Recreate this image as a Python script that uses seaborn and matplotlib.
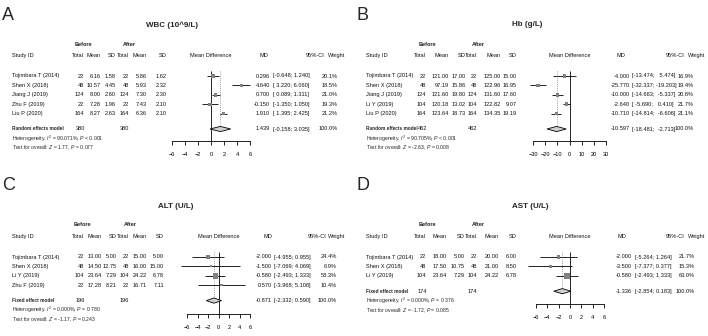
import matplotlib
matplotlib.use("Agg")
import matplotlib.pyplot as plt
import seaborn as sns
import pandas as pd

# ---- WBC
wbc_study = ["Tojimbara T (2014)", "Shen X (2018)", "Jiang J (2019)", "Zhu F (2019)", "Liu P (2020)"]
wbc_n = [22, 48, 124, 22, 164]
wbc_mean_before = [6.16, 10.57, 8.00, 7.28, 8.27]
wbc_sd_before = [1.58, 4.45, 2.60, 1.96, 2.63]
wbc_mean_after = [5.86, 5.93, 7.30, 7.43, 6.36]
wbc_sd_after = [1.62, 2.32, 2.30, 2.10, 2.10]
wbc_md = [0.296, 4.640, 0.700, -0.150, 1.910]
wbc_lower = [-0.648, 3.220, 0.089, -1.350, 1.395]
wbc_upper = [1.240, 6.060, 1.311, 1.050, 2.425]
wbc_weight = [20.1, 18.5, 21.0, 19.3, 21.2]
wbc_pooled = [1.439, -0.158, 3.035]
wbc_stats = ["90.071%", "< 0.001", "1.77", "= 0.077"]

# ---- Hb
hb_study = ["Tojimbara T (2014)", "Shen X (2018)", "Jiang J (2019)", "Li Y (2019)", "Liu P (2020)"]
hb_n = [22, 48, 124, 104, 164]
hb_mean_before = [121.00, 97.19, 121.60, 120.18, 123.64]
hb_sd_before = [17.00, 15.86, 19.80, 13.02, 18.73]
hb_mean_after = [125.00, 122.96, 131.60, 122.82, 134.35]
hb_sd_after = [15.00, 16.95, 17.60, 9.07, 19.19]
hb_md = [-4.000, -25.770, -10.000, -2.640, -10.710]
hb_lower = [-13.474, -32.337, -14.663, -5.690, -14.814]
hb_upper = [5.474, -19.203, -5.337, 0.410, -6.606]
hb_weight = [16.9, 19.4, 20.8, 21.7, 21.1]
hb_pooled = [-10.597, -18.481, -2.713]
hb_stats = ["90.705%", "< 0.001", "-2.63", "= 0.008"]

# ---- ALT
alt_study = ["Tojimbara T (2014)", "Shen X (2018)", "Li Y (2019)", "Zhu F (2019)"]
alt_n = [22, 48, 104, 22]
alt_mean_before = [13.00, 14.50, 23.64, 17.28]
alt_sd_before = [5.00, 12.75, 7.29, 8.21]
alt_mean_after = [15.00, 16.00, 24.22, 16.71]
alt_sd_after = [5.00, 15.00, 6.78, 7.11]
alt_md = [-2.000, -1.500, -0.580, 0.570]
alt_lower = [-4.955, -7.069, -2.493, -3.968]
alt_upper = [0.955, 4.069, 1.333, 5.108]
alt_weight = [24.4, 6.9, 58.3, 10.4]
alt_pooled = [-0.871, -2.332, 0.590]
alt_stats = ["0.000%", "= 0.780", "-1.17", "= 0.243"]

# ---- AST
ast_study = ["Tojimbara T (2014)", "Shen X (2018)", "Li Y (2019)"]
ast_n = [22, 48, 104]
ast_mean_before = [18.00, 17.50, 23.64]
ast_sd_before = [5.00, 10.75, 7.29]
ast_mean_after = [20.00, 21.00, 24.22]
ast_sd_after = [6.00, 8.50, 6.78]
ast_md = [-2.000, -3.500, -0.580]
ast_lower = [-5.264, -7.377, -2.493]
ast_upper = [1.264, 0.377, 1.333]
ast_weight = [21.7, 15.3, 63.0]
ast_pooled = [-1.336, -2.854, 0.183]
ast_stats = ["0.000%", "= 0.376", "-1.72", "= 0.085"]

panels = [
    dict(letter="A", title="WBC (10^9/L)", model="Random effects model", study=wbc_study, n=wbc_n,
         m1=wbc_mean_before, s1=wbc_sd_before, m2=wbc_mean_after, s2=wbc_sd_after, md=wbc_md,
         lo=wbc_lower, hi=wbc_upper, w=wbc_weight, pooled=wbc_pooled, stats=wbc_stats),
    dict(letter="B", title="Hb (g/L)", model="Random effects model", study=hb_study, n=hb_n,
         m1=hb_mean_before, s1=hb_sd_before, m2=hb_mean_after, s2=hb_sd_after, md=hb_md,
         lo=hb_lower, hi=hb_upper, w=hb_weight, pooled=hb_pooled, stats=hb_stats),
    dict(letter="C", title="ALT (U/L)", model="Fixed effect model", study=alt_study, n=alt_n,
         m1=alt_mean_before, s1=alt_sd_before, m2=alt_mean_after, s2=alt_sd_after, md=alt_md,
         lo=alt_lower, hi=alt_upper, w=alt_weight, pooled=alt_pooled, stats=alt_stats),
    dict(letter="D", title="AST (U/L)", model="Fixed effect model", study=ast_study, n=ast_n,
         m1=ast_mean_before, s1=ast_sd_before, m2=ast_mean_after, s2=ast_sd_after, md=ast_md,
         lo=ast_lower, hi=ast_upper, w=ast_weight, pooled=ast_pooled, stats=ast_stats),
]

# pixel layout of each panel
layouts = [
    dict(ox=0, oy=0, letter_xy=(2, 15), title_x=172, before_x=75, after_x=123,
         cols=[84, 101, 116, 129, 147, 167], forest=(172, 250), lim=6, step=2, axis_gap=12,
         md_right=270, ci_left=273, w_right=338, md_head=268, ci_head=324, w_head=345),
    dict(ox=354, oy=0, letter_xy=(356, 15), title_x=527, before_x=419, after_x=472,
         cols=[426, 449, 466, 477, 501, 517], forest=(533, 606), lim=30, step=10, axis_gap=12,
         md_right=630, ci_left=632, w_right=694, md_head=625, ci_head=684, w_head=705),
    dict(ox=0, oy=181, letter_xy=(2, 186), title_x=176, before_x=74, after_x=124,
         cols=[84, 102, 117, 129, 147, 164], forest=(187, 250), lim=6, step=2, axis_gap=13,
         md_right=272, ci_left=274, w_right=337, md_head=272, ci_head=326, w_head=345),
    dict(ox=354, oy=181, letter_xy=(356, 186), title_x=530, before_x=419, after_x=472,
         cols=[426, 447, 465, 477, 499, 517], forest=(536, 604), lim=6, step=2, axis_gap=13,
         md_right=632, ci_left=635, w_right=695, md_head=626, ci_head=684, w_head=705),
]

sns.set_style("white")
plt.rcParams["font.family"] = ["Liberation Sans", "DejaVu Sans"]
plt.rcParams["mathtext.fontset"] = "custom"
plt.rcParams["mathtext.rm"] = "Liberation Sans"
plt.rcParams["mathtext.it"] = "Liberation Sans:italic"

W, H = 708, 336
FS = 4.1


def num(v, d):
    return f"{v:.{d}f}"


fig = plt.figure(figsize=(W / 100, H / 100), dpi=100)
canvas = fig.add_axes([0, 0, 1, 1])
canvas.set_xlim(0, W)
canvas.set_ylim(H, 0)
canvas.axis("off")


def draw_panel(p, lay):
    oy = lay["oy"]
    k = len(p["study"])
    rows = [oy + 76 + 9.4 * i for i in range(k)]
    y_sum = rows[-1] + 15.4
    y_het = y_sum + 9.6
    y_test = y_het + 9.6
    y_axis = y_sum + lay["axis_gap"]
    txt = dict(fontsize=FS, va="center", color="#111111")

    canvas.text(*lay["letter_xy"], p["letter"], fontsize=13, va="center", ha="left")
    canvas.text(lay["title_x"], oy + 25, p["title"], fontsize=5.8, fontweight="bold",
                ha="center", va="center")

    # headers
    canvas.text(lay["before_x"], oy + 44, "Before", fontsize=4.0, fontweight="bold", va="center")
    canvas.text(lay["after_x"], oy + 44, "After", fontsize=4.0, fontweight="bold", va="center")
    sx = lay["ox"] + 12
    canvas.text(sx, oy + 55.5, "Study ID", **txt)
    for x, h in zip(lay["cols"], ["Total", "Mean", "SD", "Total", "Mean", "SD"]):
        canvas.text(x, oy + 55.5, h, ha="right", **txt)
    x0, x1 = lay["forest"]
    canvas.text((x0 + x1) / 2, oy + 55.5, "Mean Difference", ha="center", **txt)
    canvas.text(lay["md_head"], oy + 55.5, "MD", ha="right", **txt)
    canvas.text(lay["ci_head"], oy + 55.5, "95%-CI", ha="right", **txt)
    canvas.text(lay["w_head"], oy + 55.5, "Weight", ha="right", **txt)

    # study rows
    lo_s = [num(v, 3) for v in p["lo"] + [p["pooled"][1]]]
    hi_s = [num(v, 3) for v in p["hi"] + [p["pooled"][2]]]
    lw_, hw_ = max(map(len, lo_s)), max(map(len, hi_s))
    for i, y in enumerate(rows):
        canvas.text(sx, y, p["study"][i], **txt)
        vals = [str(p["n"][i]), num(p["m1"][i], 2), num(p["s1"][i], 2),
                str(p["n"][i]), num(p["m2"][i], 2), num(p["s2"][i], 2)]
        for x, v in zip(lay["cols"], vals):
            canvas.text(x, y, v, ha="right", **txt)
        canvas.text(lay["md_right"], y, num(p["md"][i], 3), ha="right", **txt)
        canvas.text(lay["ci_left"], y, f"[{lo_s[i].rjust(lw_)}; {hi_s[i].rjust(hw_)}]", ha="left", **txt)
        canvas.text(lay["w_right"], y, f"{p['w'][i]:.1f}%", ha="right", **txt)

    # pooled row
    total = sum(p["n"])
    canvas.text(sx, y_sum, p["model"], fontsize=3.4, fontweight="bold", va="center")
    canvas.text(lay["cols"][0] + 1, y_sum, str(total), ha="right", **txt)
    canvas.text(lay["cols"][3], y_sum, str(total), ha="right", **txt)
    canvas.text(lay["md_right"], y_sum, num(p["pooled"][0], 3), ha="right", **txt)
    canvas.text(lay["ci_left"], y_sum, f"[{lo_s[-1].rjust(lw_)}; {hi_s[-1].rjust(hw_)}]", ha="left", **txt)
    canvas.text(lay["w_right"], y_sum, "100.0%", ha="right", **txt)
    i2, ph, z, pz = p["stats"]
    canvas.text(sx, y_het, f"Heterogeneity: $I^2$ = {i2}, $P$ {ph}", fontsize=3.7, va="center")
    canvas.text(sx, y_test, f"Test for overall: $Z$ = {z}, $P$ {pz}", fontsize=3.7, va="center")

    # forest plot
    top = rows[0] - 5
    fax = fig.add_axes([x0 / W, 1 - y_axis / H, (x1 - x0) / W, (y_axis - top) / H])
    df = pd.DataFrame({"md": p["md"], "row": rows, "weight": p["w"]})
    fax.hlines(rows, p["lo"], p["hi"], color="black", lw=0.6, clip_on=False, zorder=2)
    sns.scatterplot(data=df, x="md", y="row", size="weight", sizes=(0, 30), size_norm=(0, 100),
                    marker="s", color="gray", edgecolor="none", legend=False, ax=fax,
                    zorder=3, clip_on=False)
    m, l, h = p["pooled"]
    fax.fill([l, m, h, m], [y_sum, y_sum - 2.6, y_sum, y_sum + 2.6], facecolor="#d0d0d0",
             edgecolor="black", lw=0.6, zorder=3, clip_on=False)
    fax.vlines(0, top, y_axis, color="black", lw=0.6)
    fax.vlines(m, top, y_sum - 2.6, color="gray", lw=0.6, linestyles=(0, (1, 1.5)))
    lim, step = lay["lim"], lay["step"]
    fax.set_xlim(-lim, lim)
    fax.set_ylim(y_axis, top)
    ticks = list(range(-lim, lim + 1, step))
    fax.set_xticks(ticks)
    fax.set_xticklabels([str(t).replace("-", "\u2212") for t in ticks], fontsize=FS)
    fax.set_yticks([])
    fax.set_xlabel("")
    fax.set_ylabel("")
    fax.patch.set_alpha(0)
    for s in ["top", "left", "right"]:
        fax.spines[s].set_visible(False)
    fax.spines["bottom"].set_linewidth(0.6)
    fax.spines["bottom"].set_color("black")
    fax.tick_params(axis="x", direction="out", length=3, width=0.6, pad=5, bottom=True, colors="black")


for p, lay in zip(panels, layouts):
    draw_panel(p, lay)

fig.savefig("out.png", dpi=100)
